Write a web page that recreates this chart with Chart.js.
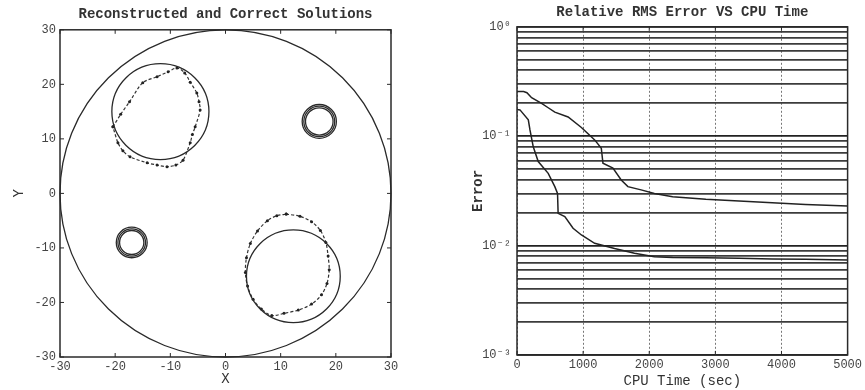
<!DOCTYPE html>
<html>
<head>
<meta charset="utf-8">
<script src="https://cdn.jsdelivr.net/npm/chart.js@4.4.1/dist/chart.umd.min.js"></script>
<style>
	body { margin: 0; background: #fff; }
	canvas { position: absolute; top: 0; }
</style>
</head>
<body>
<canvas id="sol" width="435" height="390" style="left:0px"></canvas>
<canvas id="err" width="430" height="390" style="left:435px"></canvas>
<script>
// correct solutions: domain + inclusions (centre x, centre y, radius)
// the two small inclusions are traced by both solutions, so they show as thick rings
var circleX = [0, -11.8, 12.3, 17, 17, 17, -17, -17, -17];
var circleY = [0, 15, -15.2, 13.2, 13.2, 13.2, -9, -9, -9];
var circleR = [30, 8.8, 8.5, 3.1, 2.8, 2.5, 2.8, 2.5, 2.2];

// reconstructed boundaries
var reconAx = [-20.4, -19.0, -17.4, -15.0, -12.4, -10.4, -8.8, -7.4, -6.4, -5.2, -4.8, -4.6, -5.5, -6.0, -6.4, -7.7, -9.0, -10.6, -12.4, -14.2, -17.3, -18.6, -19.5, -20.4];
var reconAy = [12.2, 14.5, 16.8, 20.3, 21.4, 22.3, 23.0, 22.1, 20.4, 18.4, 16.8, 15.3, 12.2, 10.8, 9.3, 6.1, 5.2, 4.9, 5.2, 5.6, 6.7, 7.8, 9.3, 12.2];
var reconBx = [11.0, 13.5, 15.6, 17.2, 18.2, 18.6, 18.8, 18.4, 17.4, 15.6, 13.2, 10.6, 8.4, 6.5, 5.0, 4.0, 3.6, 3.8, 4.5, 5.8, 7.6, 9.3, 11.0];
var reconBy = [-3.8, -4.2, -5.2, -6.8, -9.0, -11.5, -14.0, -16.5, -18.6, -20.3, -21.4, -22.0, -22.4, -21.2, -19.4, -17.0, -14.5, -11.8, -9.2, -6.9, -5.0, -4.1, -3.8];

// relative RMS error vs CPU time
var cpuTimeA = [0, 100, 150, 221, 372, 472, 572, 773, 974, 1175, 1275, 1300, 1451, 1576, 1677, 1877, 2078, 2354, 2856, 3358, 3860, 4363, 5000];
var errorA = [0.256, 0.256, 0.25, 0.225, 0.2, 0.182, 0.166, 0.15, 0.12, 0.0925, 0.0776, 0.0566, 0.051, 0.0398, 0.0346, 0.0323, 0.030, 0.028, 0.0265, 0.0256, 0.0247, 0.0238, 0.023];
var cpuTimeB = [0, 45, 171, 196, 246, 321, 472, 572, 613, 622, 723, 848, 974, 1175, 1476, 1777, 2078, 2354, 2856, 3358, 3860, 4363, 5000];
var errorB = [0.175, 0.174, 0.141, 0.114, 0.080, 0.0586, 0.0458, 0.0346, 0.030, 0.0197, 0.0184, 0.0144, 0.0125, 0.0105, 0.0094, 0.0085, 0.0079, 0.0078, 0.00776, 0.00765, 0.00755, 0.0075, 0.0074];

var errGrid = [0.001, 0.002, 0.003, 0.004, 0.005, 0.006, 0.007, 0.008, 0.009,
	0.01, 0.02, 0.03, 0.04, 0.05, 0.06, 0.07, 0.08, 0.09,
	0.1, 0.2, 0.3, 0.4, 0.5, 0.6, 0.7, 0.8, 0.9, 1];
var errTicks = [0.001, 0.01, 0.1, 1];
var errTickLabels = ['10\u207B\u00B3', '10\u207B\u00B2', '10\u207B\u00B9', '10\u2070'];

function pts(xs, ys) {
	var out = [];
	for (var i = 0; i < xs.length; i++) out.push({x: xs[i], y: ys[i]});
	return out;
}

var mono = "'Liberation Mono', 'DejaVu Sans Mono', monospace";
var ink = '#2a2a2a';

// draws the plot frame with inward tick marks (matlab style)
var boxPlugin = {
	id: 'box',
	afterDraw: function(chart) {
		var a = chart.chartArea, ctx = chart.ctx;
		var xs = chart.scales.x, ys = chart.scales.y;
		ctx.save();
		ctx.strokeStyle = ink;
		ctx.lineWidth = 1.5;
		ctx.strokeRect(a.left, a.top, a.right - a.left, a.bottom - a.top);
		ctx.beginPath();
		ctx.lineWidth = 1;
		xs.ticks.forEach(function(t) {
			var p = xs.getPixelForValue(t.value);
			ctx.moveTo(p, a.bottom); ctx.lineTo(p, a.bottom - 4);
			ctx.moveTo(p, a.top); ctx.lineTo(p, a.top + 4);
		});
		if (chart.canvas.id == 'sol') {
			ys.ticks.forEach(function(t) {
				var p = ys.getPixelForValue(t.value);
				ctx.moveTo(a.left, p); ctx.lineTo(a.left + 4, p);
				ctx.moveTo(a.right, p); ctx.lineTo(a.right - 4, p);
			});
		}
		ctx.stroke();
		ctx.restore();
	}
};

// the exact circles, placed through the chart scales
var circlePlugin = {
	id: 'circles',
	afterDatasetsDraw: function(chart) {
		var a = chart.chartArea, ctx = chart.ctx;
		var xs = chart.scales.x, ys = chart.scales.y;
		ctx.save();
		ctx.beginPath();
		ctx.rect(a.left - 1, a.top - 1, a.right - a.left + 2, a.bottom - a.top + 2);
		ctx.clip();
		ctx.strokeStyle = ink;
		ctx.lineWidth = 1.3;
		for (var i = 0; i < circleX.length; i++) {
			var cx = xs.getPixelForValue(circleX[i]);
			var cy = ys.getPixelForValue(circleY[i]);
			var rx = Math.abs(xs.getPixelForValue(circleX[i] + circleR[i]) - cx);
			var ry = Math.abs(ys.getPixelForValue(circleY[i] + circleR[i]) - cy);
			ctx.beginPath();
			ctx.ellipse(cx, cy, rx, ry, 0, 0, 2 * Math.PI);
			ctx.stroke();
		}
		ctx.restore();
	}
};

var reconStyle = {
	showLine: true,
	borderColor: '#333',
	borderWidth: 1.2,
	borderDash: [3, 2],
	pointRadius: 1.5,
	pointBackgroundColor: '#222',
	pointBorderWidth: 0,
	tension: 0.3
};

new Chart(document.getElementById('sol'), {
	type: 'scatter',
	data: {
		datasets: [
			Object.assign({ label: 'reconstructed 1', data: pts(reconAx, reconAy) }, reconStyle),
			Object.assign({ label: 'reconstructed 2', data: pts(reconBx, reconBy) }, reconStyle)
		]
	},
	options: {
		responsive: false,
		animation: false,
		layout: { padding: { left: 0, right: 44, top: 0, bottom: 0 } },
		plugins: {
			legend: { display: false },
			tooltip: { enabled: false },
			title: {
				display: true,
				fullSize: false,
				text: 'Reconstructed and Correct Solutions',
				color: '#333',
				font: { family: mono, size: 14, weight: 'bold' },
				padding: { top: 6, bottom: 7 }
			}
		},
		scales: {
			x: {
				type: 'linear', min: -30, max: 30,
				ticks: { stepSize: 10, color: '#444', font: { family: mono, size: 12 }, padding: 3 },
				grid: { display: false, drawTicks: false },
				border: { display: false },
				title: { display: true, text: 'X', color: '#333', font: { family: mono, size: 14 }, padding: { top: 0, bottom: 2 } },
				afterFit: function(s) { s.height = 33; }
			},
			y: {
				type: 'linear', min: -30, max: 30,
				ticks: { stepSize: 10, color: '#444', font: { family: mono, size: 12 }, padding: 4 },
				grid: { display: false, drawTicks: false },
				border: { display: false },
				title: { display: true, text: 'Y', color: '#333', font: { family: mono, size: 14 }, padding: { top: 11, bottom: 0 } },
				afterFit: function(s) { s.width = 60; }
			}
		}
	},
	plugins: [circlePlugin, boxPlugin]
});

new Chart(document.getElementById('err'), {
	type: 'scatter',
	data: {
		datasets: [
			{ label: 'A', data: pts(cpuTimeA, errorA), showLine: true, borderColor: '#222', borderWidth: 1.5, pointRadius: 0, tension: 0 },
			{ label: 'B', data: pts(cpuTimeB, errorB), showLine: true, borderColor: '#222', borderWidth: 1.5, pointRadius: 0, tension: 0 }
		]
	},
	options: {
		responsive: false,
		animation: false,
		layout: { padding: { left: 0, right: 16, top: 0, bottom: 0 } },
		plugins: {
			legend: { display: false },
			tooltip: { enabled: false },
			title: {
				display: true,
				fullSize: false,
				text: 'Relative RMS Error VS CPU Time',
				color: '#333',
				font: { family: mono, size: 14, weight: 'bold' },
				padding: { top: 4, bottom: 6 }
			}
		},
		scales: {
			x: {
				type: 'linear', min: 0, max: 5000,
				ticks: {
					stepSize: 1000, color: '#444', font: { family: mono, size: 12 }, padding: 3,
					callback: function(v) { return String(v); }
				},
				grid: { color: '#777', lineWidth: 1, drawTicks: false },
				border: { display: false, dash: [2, 2] },
				title: { display: true, text: 'CPU Time (sec)', color: '#333', font: { family: mono, size: 14 }, padding: { top: 0, bottom: 0 } },
				afterFit: function(s) { s.height = 35; }
			},
			y: {
				type: 'logarithmic', min: 0.001, max: 1,
				afterBuildTicks: function(s) {
					s.ticks = errGrid.map(function(v) { return { value: v }; });
				},
				ticks: {
					autoSkip: false,
					color: '#444',
					font: { family: mono, size: 12 },
					padding: 6,
					callback: function(v) {
						var i = errTicks.indexOf(v);
						return i >= 0 ? errTickLabels[i] : '';
					}
				},
				grid: {
					drawTicks: false,
					color: function(c) { return errTicks.indexOf(c.tick.value) >= 0 ? '#222' : '#3c3c3c'; },
					lineWidth: 1.8
				},
				border: { display: false },
				title: { display: true, text: 'Error', color: '#333', font: { family: mono, size: 14, weight: 'bold' }, padding: { top: 35, bottom: 0 } },
				afterFit: function(s) { s.width = 82; }
			}
		}
	},
	plugins: [boxPlugin]
});
</script>
</body>
</html>
